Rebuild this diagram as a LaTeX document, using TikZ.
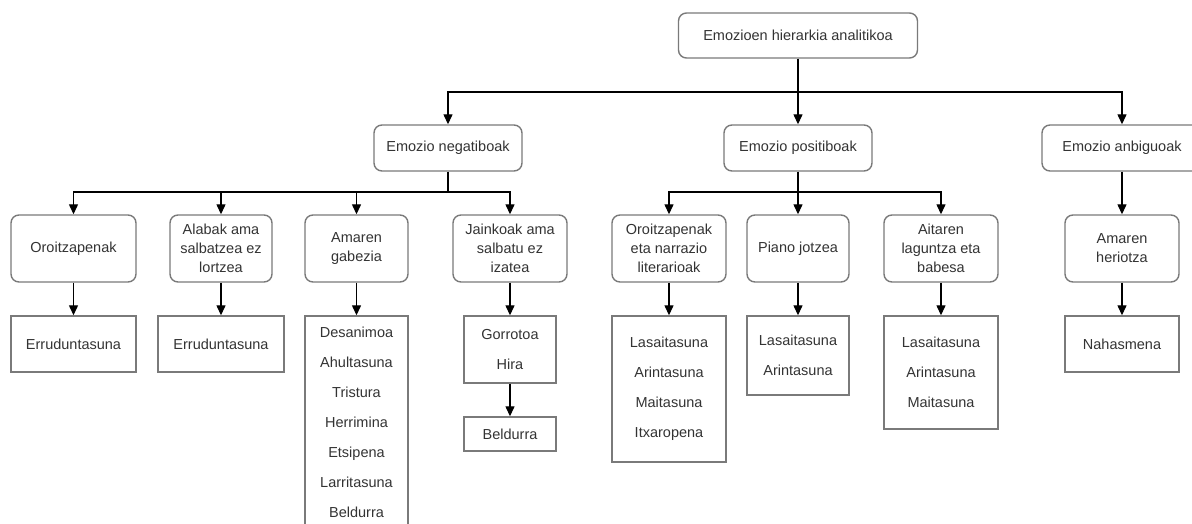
\documentclass[tikz,border=0pt]{standalone}
\usepackage{fontspec}
\setmainfont{Liberation Sans}
\usetikzlibrary{arrows.meta}
\colorlet{boxgray}{black!52}
\colorlet{txtgray}{black!80}
\tikzset{>={Triangle[length=10pt,width=9pt]}}
\tikzset{
  emo/.style = {draw=boxgray,line width=1.4pt,rounded corners=8pt,
    text=txtgray,align=center,inner sep=2pt,
    font=\fontsize{14.5}{19}\selectfont},
  feel/.style = {draw=boxgray,line width=1.4pt,text=txtgray,align=center,
    inner sep=2pt,font=\fontsize{14.5}{30}\selectfont},
  link/.style = {->,line width=1.3pt}
}

\begin{document}
\begin{tikzpicture}[x=1pt,y=-1pt]
  \useasboundingbox (0,0) rectangle (1192,524);
  % root and main groups
  \node[emo,minimum width=239pt,minimum height=45pt] (root) at (798,35.5) {Emozioen hierarkia analitikoa};
  \node[emo,minimum width=148pt,minimum height=46pt] (neg) at (448,148) {Emozio negatiboak};
  \node[emo,minimum width=148pt,minimum height=46pt] (pos) at (798,148) {Emozio positiboak};
  \node[emo,minimum width=160pt,minimum height=46pt] (amb) at (1122,148) {Emozio anbiguoak};
  % causes
  \node[emo,minimum width=125pt,minimum height=67pt] (oroitz) at (73.5,248.5) {Oroitzapenak};
  \node[emo,minimum width=102pt,minimum height=67pt] (alabak) at (221,248.5) {Alabak ama\\salbatzea ez\\lortzea};
  \node[emo,minimum width=103pt,minimum height=67pt] (gabezia) at (356.5,248.5) {Amaren\\gabezia};
  \node[emo,minimum width=114pt,minimum height=67pt] (jainko) at (510,248.5) {Jainkoak ama\\salbatu ez\\izatea};
  \node[emo,minimum width=114pt,minimum height=67pt] (narrazio) at (669,248.5) {Oroitzapenak\\eta narrazio\\literarioak};
  \node[emo,minimum width=102pt,minimum height=67pt] (piano) at (798,248.5) {Piano jotzea};
  \node[emo,minimum width=114pt,minimum height=67pt] (aita) at (941,248.5) {Aitaren\\laguntza eta\\babesa};
  \node[emo,minimum width=114pt,minimum height=67pt] (heriotza) at (1122,248.5) {Amaren\\heriotza};
  % feelings
  \node[feel,minimum width=125pt,minimum height=56pt] (erru1) at (73.5,344) {Erruduntasuna};
  \node[feel,minimum width=126pt,minimum height=56pt] (erru2) at (221,344) {Erruduntasuna};
  \node[feel,minimum width=103pt,minimum height=213pt] (tristura) at (356.5,422.5) {Desanimoa\\Ahultasuna\\Tristura\\Herrimina\\Etsipena\\Larritasuna\\Beldurra};
  \node[feel,minimum width=92pt,minimum height=67pt] (hira) at (510,349.5) {Gorrotoa\\Hira};
  \node[feel,minimum width=92pt,minimum height=34pt] (beldur) at (510,434) {Beldurra};
  \node[feel,minimum width=114pt,minimum height=146pt] (lasai1) at (669,389) {Lasaitasuna\\Arintasuna\\Maitasuna\\Itxaropena};
  \node[feel,minimum width=102pt,minimum height=79pt] (lasai2) at (798,355.5) {Lasaitasuna\\Arintasuna};
  \node[feel,minimum width=114pt,minimum height=113pt] (lasai3) at (941,372.5) {Lasaitasuna\\Arintasuna\\Maitasuna};
  \node[feel,minimum width=114pt,minimum height=56pt] (nahas) at (1122,344) {Nahasmena};
  % connectors
  \coordinate (rootbus) at (798,92);
  \coordinate (negbus) at (448,192);
  \coordinate (posbus) at (798,192);
  \draw[line width=1.3pt] (root.south) -- (rootbus);
  \foreach \g in {neg,pos,amb}
    \draw[link] (rootbus) -| (\g.north);
  \draw[line width=1.3pt] (neg.south) -- (negbus);
  \foreach \c in {oroitz,alabak,gabezia,jainko}
    \draw[link] (negbus) -| (\c.north);
  \draw[line width=1.3pt] (pos.south) -- (posbus);
  \foreach \c in {narrazio,piano,aita}
    \draw[link] (posbus) -| (\c.north);
  \draw[link] (amb) -- (heriotza);
  \draw[link] (oroitz) -- (erru1);
  \draw[link] (alabak) -- (erru2);
  \draw[link] (gabezia) -- (tristura);
  \draw[link] (jainko) -- (hira);
  \draw[link] (hira) -- (beldur);
  \draw[link] (narrazio) -- (lasai1);
  \draw[link] (piano) -- (lasai2);
  \draw[link] (aita) -- (lasai3);
  \draw[link] (heriotza) -- (nahas);
\end{tikzpicture}
\end{document}
